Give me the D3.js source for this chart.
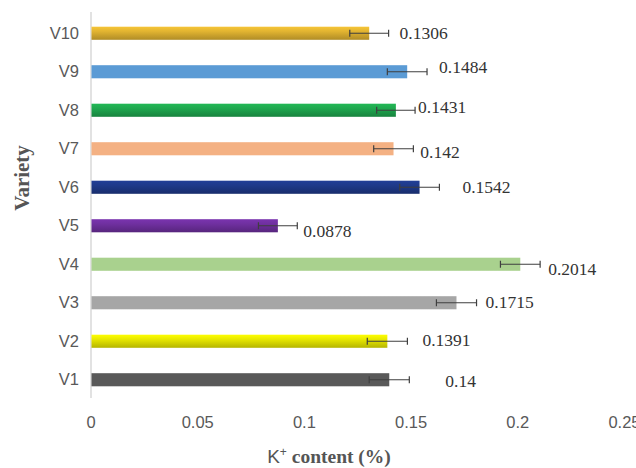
<!DOCTYPE html>
<html><head><meta charset="utf-8">
<script src="https://cdn.jsdelivr.net/npm/d3@7"></script>
<style>html,body{margin:0;padding:0;background:#fff;}svg{display:block;}</style>
</head><body>
<svg id="chart" width="636" height="468"></svg>
<script>
const categories = ["V1","V2","V3","V4","V5","V6","V7","V8","V9","V10"];
const values = [0.14, 0.1391, 0.1715, 0.2014, 0.0878, 0.1542, 0.142, 0.1431, 0.1484, 0.1306];
const errors = [0.0094, 0.0094, 0.0094, 0.0093, 0.0091, 0.0093, 0.0093, 0.009, 0.0093, 0.0091];
const valueLabels = ["0.14","0.1391","0.1715","0.2014","0.0878","0.1542","0.142","0.1431","0.1484","0.1306"];
const xTicks = [0, 0.05, 0.1, 0.15, 0.2, 0.25];
const xTickLabels = ["0","0.05","0.1","0.15","0.2","0.25"];

// styling (not data)
const colors = ["#595959","#e8e800","#a6a6a6","#a9d18e","#7030a0","#1f3a8a","#f4b183","#1fa84f","#5b9bd5","#e2b431"];
const shaded = [false,true,false,false,true,true,false,true,false,true];
const labelDx = [36,15,9,8,6,23,7,3,12,11];
const labelDy = [1.5,-1,-1,5,5,0,3,-3,-5,0];

const svg = d3.select("#chart");
svg.append("rect").attr("width",636).attr("height",468).attr("fill","#fff");

const x = d3.scaleLinear().domain([0,0.25]).range([90.5,624]);
const y = d3.scaleBand().domain(categories.slice().reverse()).range([14,399])
  .paddingInner(0.66).paddingOuter(0.33);

const defs = svg.append("defs");
categories.forEach((c,i)=>{
  const g = defs.append("linearGradient").attr("id","g"+i)
    .attr("x1",0).attr("y1",0).attr("x2",0).attr("y2",1);
  const base = d3.color(colors[i]);
  if (shaded[i]) {
    g.append("stop").attr("offset","0%").attr("stop-color",base.brighter(0.25));
    g.append("stop").attr("offset","35%").attr("stop-color",base);
    g.append("stop").attr("offset","100%").attr("stop-color",base.darker(0.7));
  } else {
    g.append("stop").attr("offset","0%").attr("stop-color",base);
    g.append("stop").attr("offset","100%").attr("stop-color",base);
  }
});

// x axis tick labels
const xAxis = d3.axisBottom(x).tickValues(xTicks).tickFormat((d,i)=>xTickLabels[i]).tickSize(0).tickPadding(0);
const gx = svg.append("g").attr("transform","translate(0,416)").call(xAxis);
gx.select(".domain").remove();
gx.selectAll("text").attr("font-family","Liberation Sans, Arial, sans-serif")
  .attr("font-size","16.5px").attr("fill","#595959").attr("dy","0.71em");

// y axis
const yAxis = d3.axisLeft(y).tickSize(0).tickPadding(12);
const gy = svg.append("g").attr("transform","translate(91,0)").call(yAxis);
gy.select(".domain").remove();
gy.selectAll("text").attr("font-family","Liberation Sans, Arial, sans-serif")
  .attr("font-size","16.5px").attr("fill","#595959");
svg.append("line").attr("x1",91).attr("x2",91).attr("y1",12).attr("y2",398)
  .attr("stroke","#d9d9d9").attr("stroke-width",1.5);

// bars
svg.append("g").selectAll("rect").data(categories).join("rect")
  .attr("x",x(0)+1).attr("y",d=>y(d))
  .attr("width",(d,i)=>x(values[i])-x(0)-1)
  .attr("height",y.bandwidth())
  .attr("fill",(d,i)=>"url(#g"+i+")");

// error bars
const eg = svg.append("g").attr("stroke","#3f3f3f").attr("stroke-width",1.2).attr("fill","none");
categories.forEach((c,i)=>{
  const cy = y(c)+y.bandwidth()/2;
  const x1 = x(values[i]-errors[i]), x2 = x(values[i]+errors[i]);
  eg.append("line").attr("x1",x1).attr("x2",x2).attr("y1",cy).attr("y2",cy);
  eg.append("line").attr("x1",x1).attr("x2",x1).attr("y1",cy-3.5).attr("y2",cy+3.5);
  eg.append("line").attr("x1",x2).attr("x2",x2).attr("y1",cy-3.5).attr("y2",cy+3.5);
});

// value labels
svg.append("g").selectAll("text").data(categories).join("text")
  .attr("x",(d,i)=>x(values[i]+errors[i])+labelDx[i])
  .attr("y",(d,i)=>y(d)+y.bandwidth()/2+labelDy[i])
  .attr("dy","0.35em")
  .attr("font-family","Liberation Serif, Times New Roman, serif")
  .attr("font-size","17.5px").attr("fill","#333")
  .text((d,i)=>valueLabels[i]);

// axis titles
const xt = svg.append("text").attr("x",329).attr("y",463).attr("text-anchor","middle")
  .attr("fill","#555");
xt.append("tspan").attr("font-family","Liberation Sans, Arial, sans-serif").attr("font-size","19px").text("K");
xt.append("tspan").attr("font-family","Liberation Sans, Arial, sans-serif").attr("font-size","12px").attr("dy","-7").text("+");
xt.append("tspan").attr("font-family","Liberation Serif, Times New Roman, serif").attr("font-weight","bold")
  .attr("font-size","19.5px").attr("dy","7").text(" content (%)");

svg.append("text").attr("transform","translate(29,178) rotate(-90)")
  .attr("text-anchor","middle")
  .attr("font-family","Liberation Serif, Times New Roman, serif").attr("font-weight","bold")
  .attr("font-size","21px").attr("fill","#555").text("Variety");
</script>
</body></html>
